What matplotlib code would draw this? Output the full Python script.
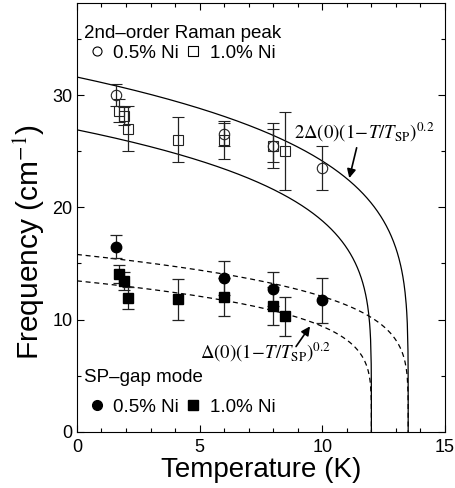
import numpy as np
import matplotlib
matplotlib.use("Agg")
import matplotlib.pyplot as plt
from matplotlib.lines import Line2D
from matplotlib.ticker import MultipleLocator

plt.rcParams['font.family'] = ['Liberation Sans', 'DejaVu Sans']
plt.rcParams['mathtext.fontset'] = 'stix'

# 2nd-order Raman peak, 0.5% Ni (open circles)
raman05_T = [1.6, 6.0, 8.0, 10.0]
raman05_f = [30.0, 26.5, 25.5, 23.5]
raman05_err = [1.0, 1.0, 2.0, 2.0]

# 2nd-order Raman peak, 1.0% Ni (open squares)
raman10_T = [1.7, 1.9, 2.1, 4.1, 6.0, 8.0, 8.5]
raman10_f = [28.6, 28.1, 27.0, 26.0, 26.0, 25.5, 25.0]
raman10_err = [1.0, 0.8, 2.0, 2.0, 1.7, 1.5, 3.5]

# SP-gap mode, 0.5% Ni (filled circles)
gap05_T = [1.6, 6.0, 8.0, 10.0]
gap05_f = [16.5, 13.7, 12.7, 11.7]
gap05_err = [1.0, 1.5, 1.5, 2.0]

# SP-gap mode, 1.0% Ni (filled squares)
gap10_T = [1.7, 1.9, 2.1, 4.1, 6.0, 8.0, 8.5]
gap10_f = [14.1, 13.4, 11.9, 11.8, 12.0, 11.2, 10.3]
gap10_err = [0.8, 0.8, 1.0, 1.8, 1.7, 1.7, 1.75]

# BCS-like gap curves Delta(0)(1 - T/Tsp)^0.2
delta0 = [15.8, 13.45]
t_sp = [13.5, 12.0]
exponent = 0.2

fig = plt.figure(figsize=(4.55, 4.88), dpi=100)
ax = fig.add_axes([0.169, 0.115, 0.809, 0.879])

for d0, tc in zip(delta0, t_sp):
    T = np.concatenate([np.linspace(0, tc * 0.999, 600), np.linspace(tc * 0.999, tc, 200)])
    gap = d0 * (1 - T / tc) ** exponent
    ax.plot(T, 2 * gap, color='k', lw=0.9)
    ax.plot(T, gap, color='k', lw=0.9, ls=(0, (4, 3)))

ebar = dict(ecolor='#222222', elinewidth=0.9, capsize=4, capthick=0.9, ls='none')
ax.errorbar(raman05_T, raman05_f, yerr=raman05_err, marker='o', ms=7.5,
            mfc='none', mec='#222222', mew=0.8, **ebar)
ax.errorbar(raman10_T, raman10_f, yerr=raman10_err, marker='s', ms=7,
            mfc='none', mec='#222222', mew=0.8, **ebar)
ax.errorbar(gap05_T, gap05_f, yerr=gap05_err, marker='o', ms=7.5,
            mfc='k', mec='k', **ebar)
ax.errorbar(gap10_T, gap10_f, yerr=gap10_err, marker='s', ms=7,
            mfc='k', mec='k', **ebar)

ax.set_xlim(0, 15)
ax.set_ylim(0, 38.2)
ax.xaxis.set_major_locator(MultipleLocator(5))
ax.xaxis.set_minor_locator(MultipleLocator(1))
ax.yaxis.set_major_locator(MultipleLocator(10))
ax.yaxis.set_minor_locator(MultipleLocator(5))
ax.tick_params(which='both', direction='in', top=True, right=True,
               labelsize=13, width=0.8)
ax.tick_params(axis='x', pad=5)
ax.tick_params(axis='y', pad=3)
ax.tick_params(which='major', length=5)
ax.tick_params(which='minor', length=3)
for s in ax.spines.values():
    s.set_linewidth(0.8)

ax.set_xlabel('Temperature (K)', fontsize=20, labelpad=1)
ax.set_ylabel('Frequency (cm$^{-1}$)', fontsize=21.5)
ax.yaxis.set_label_coords(-0.08, 0.443)

# Legends
leg_kw = dict(ncol=2, frameon=False, fontsize=13.5, title_fontsize=13.5,
              alignment='left', handlelength=1.3, handletextpad=0.25,
              columnspacing=0.1, borderpad=0.2, borderaxespad=0.2)
open_handles = [
    Line2D([], [], ls='none', marker='o', ms=6.5, mfc='none', mec='k', mew=0.8),
    Line2D([], [], ls='none', marker='s', ms=6.5, mfc='none', mec='k', mew=0.8),
]
leg1 = ax.legend(open_handles, ['0.5% Ni', '1.0% Ni'], loc='upper left',
                 bbox_to_anchor=(0.0, 0.967), title='2nd\u2013order Raman peak',
                 labelspacing=0.15, **leg_kw)
ax.add_artist(leg1)
filled_handles = [
    Line2D([], [], ls='none', marker='o', ms=7, mfc='k', mec='k'),
    Line2D([], [], ls='none', marker='s', ms=7, mfc='k', mec='k'),
]
ax.legend(filled_handles, ['0.5% Ni', '1.0% Ni'], loc='lower left',
          bbox_to_anchor=(0.0, 0.02), title='SP\u2013gap mode',
          labelspacing=0.65, **leg_kw)

# Curve labels with arrows
arrow = dict(arrowstyle='-|>', color='k', lw=1.2, mutation_scale=13, shrinkA=0, shrinkB=0)
ax.annotate('', xy=(11.1, 22.6), xytext=(11.4, 25.3), arrowprops=arrow)
ax.text(8.86, 26.1, r'$2\Delta(0)(1\!-\!T/T_{\mathrm{SP}})^{0.2}$',
        fontsize=13.5, ha='left', va='baseline')
ax.annotate('', xy=(9.5, 9.4), xytext=(8.93, 7.6), arrowprops=arrow)
ax.text(5.0, 6.5, r'$\Delta(0)(1\!-\!T/T_{\mathrm{SP}})^{0.2}$',
        fontsize=13.5, ha='left', va='baseline')

fig.savefig('out.png', dpi=100)
